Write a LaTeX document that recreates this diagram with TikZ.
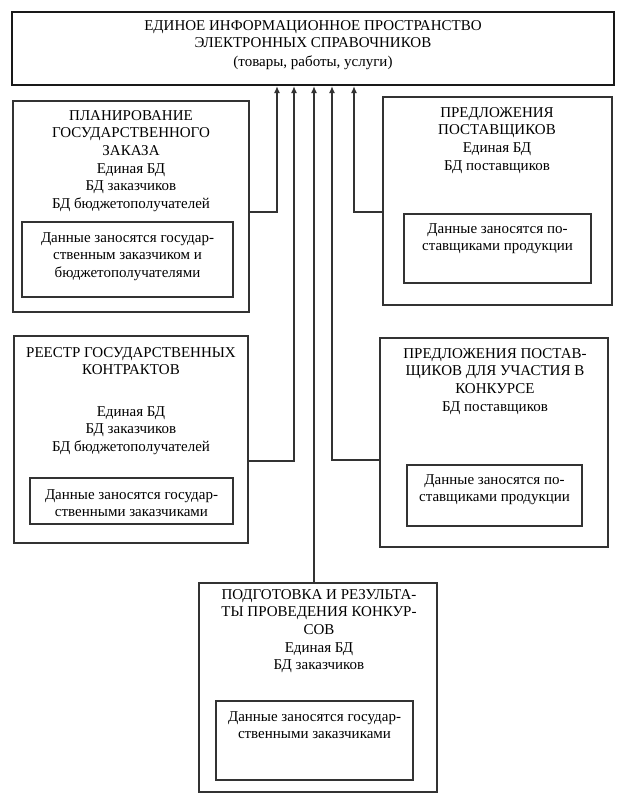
\documentclass[tikz,border=0pt]{standalone}
\usepackage{fontspec}
\setmainfont{Liberation Serif}
\usetikzlibrary{arrows.meta}
\newcommand\boxfont{\fontsize{15}{17.7}\selectfont}
\begin{document}
\begin{tikzpicture}[x=1pt,y=-1pt,
 box/.style={draw=black!80, line width=1.3pt, rectangle, inner sep=0},
 txt/.style={anchor=north, align=center, inner sep=0, font=\boxfont},
 arr/.style={draw=black!80, line width=1.3pt, -{Latex[length=7pt,width=6pt]}}]
\useasboundingbox[fill=white] (0,0) rectangle (626,802);
% top
\node[box, draw=black!90, line width=2.2pt, minimum width=602, minimum height=73] (top) at (313,48.5) {};
\node[txt] (toptxt) at (313,17.5) {\strut ЕДИНОЕ ИНФОРМАЦИОННОЕ ПРОСТРАНСТВО\\ЭЛЕКТРОННЫХ СПРАВОЧНИКОВ\\[1pt](товары, работы, услуги)};
% A
\node[box, minimum width=236, minimum height=211] (A) at (131,206.5) {};
\node[box, minimum width=211, minimum height=75] (Ai) at (127.5,259.5) {};
\node[txt] (At) at (131,107.5) {\strut ПЛАНИРОВАНИЕ\\ГОСУДАРСТВЕННОГО\\ЗАКАЗА\\Единая БД\\БД заказчиков\\БД бюджетополучателей};
\node[txt] (Ait) at (127.5,229.5) {\strut Данные заносятся государ-\\ственным заказчиком и\\бюджетополучателями};
% B
\node[box, minimum width=229, minimum height=208] (B) at (497.5,201) {};
\node[box, minimum width=187, minimum height=69] (Bi) at (497.5,248.5) {};
\node[txt] (Bt) at (497,104.5) {\strut ПРЕДЛОЖЕНИЯ\\ПОСТАВЩИКОВ\\Единая БД\\БД поставщиков};
\node[txt] (Bit) at (497.5,220.5) {\strut Данные заносятся по-\\ставщиками продукции};
% C
\node[box, minimum width=234, minimum height=207] (C) at (131,439.5) {};
\node[box, minimum width=203, minimum height=46] (Ci) at (131.5,501) {};
\node[txt] (Ct) at (131,344.5) {\strut РЕЕСТР ГОСУДАРСТВЕННЫХ\\КОНТРАКТОВ};
\node[txt] (Ct2) at (131,403.5) {\strut Единая БД\\БД заказчиков\\БД бюджетополучателей};
\node[txt] (Cit) at (131.5,486.5) {\strut Данные заносятся государ-\\ственными заказчиками};
% D
\node[box, minimum width=228, minimum height=209] (D) at (494,442.5) {};
\node[box, minimum width=175, minimum height=61] (Di) at (494.5,495.5) {};
\node[txt] (Dt) at (495,345.5) {\strut ПРЕДЛОЖЕНИЯ ПОСТАВ-\\ЩИКОВ ДЛЯ УЧАСТИЯ В\\КОНКУРСЕ\\БД поставщиков};
\node[txt] (Dit) at (494.5,471.5) {\strut Данные заносятся по-\\ставщиками продукции};
% E
\node[box, minimum width=238, minimum height=209] (E) at (318,687.5) {};
\node[box, minimum width=197, minimum height=79] (Ei) at (314.5,740.5) {};
\node[txt] (Et) at (319,586.5) {\strut ПОДГОТОВКА И РЕЗУЛЬТА-\\ТЫ ПРОВЕДЕНИЯ КОНКУР-\\СОВ\\Единая БД\\БД заказчиков};
\node[txt] (Eit) at (314.5,708.5) {\strut Данные заносятся государ-\\ственными заказчиками};
% connectors
\coordinate (ja) at (277,212);
\coordinate (jc) at (294,461);
\coordinate (je) at (314,583);
\coordinate (jd) at (332,460);
\coordinate (jb) at (354,212);
\draw[arr] (A.east |- ja) -- (ja) -- (top.south -| ja);
\draw[arr] (C.east |- jc) -- (jc) -- (top.south -| jc);
\draw[arr] (E.north -| je) -- (top.south -| je);
\draw[arr] (D.west |- jd) -- (jd) -- (top.south -| jd);
\draw[arr] (B.west |- jb) -- (jb) -- (top.south -| jb);
\end{tikzpicture}
\end{document}
